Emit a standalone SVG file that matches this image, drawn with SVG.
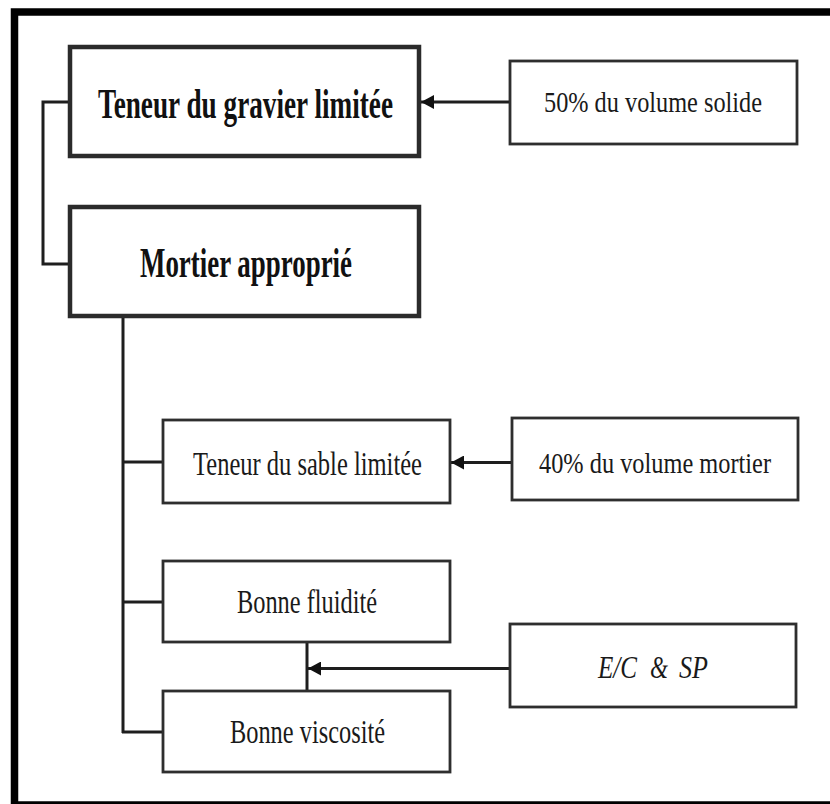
<svg xmlns="http://www.w3.org/2000/svg" width="830" height="804" viewBox="0 0 830 804">
<style>
.thick{fill:#fff;stroke:#2b2b2b;stroke-width:4.5}
.thin{fill:#fff;stroke:#2e2e2e;stroke-width:2.8}
.line{fill:none;stroke:#1e1e1e;stroke-width:3}
.bold{font-family:"Liberation Serif","Times New Roman",serif;font-weight:bold;font-size:42px;fill:#111;text-anchor:middle}
.reg{font-family:"Liberation Serif","Times New Roman",serif;font-size:33px;fill:#1a1a1a;text-anchor:middle}
.sm{font-size:30px}
.ital{font-family:"Liberation Serif","Times New Roman",serif;font-style:italic;font-size:32px;fill:#1a1a1a}
</style>
<defs>
<marker id="arr" viewBox="0 0 13 14" refX="13" refY="7" markerWidth="13" markerHeight="14" markerUnits="userSpaceOnUse" orient="auto">
<path d="M0,0 L13,7 L0,14 z" fill="#111"/>
</marker>
</defs>
<rect x="0" y="0" width="830" height="804" fill="#fff"/>
<rect id="frame" x="14.5" y="12" width="830" height="793" fill="none" stroke="#000" stroke-width="7.5"/>
<g id="connectors">
<path class="line" d="M70,102 H43 V264 H70" stroke-width="3.5"/>
<path class="line" d="M510,102 H421" marker-end="url(#arr)"/>
<path class="line" d="M123,316 V733"/>
<path class="line" d="M122,462 H163"/>
<path class="line" d="M122,602 H163"/>
<path class="line" d="M122,732 H163"/>
<path class="line" d="M512,462.5 H451" marker-end="url(#arr)"/>
<path class="line" d="M307,642 V691"/>
<path class="line" d="M510,668.5 H308" marker-end="url(#arr)"/>
</g>
<g id="n1"><rect class="thick" x="70" y="47" width="349" height="109"/><text class="bold" x="245.5" y="118" textLength="295" lengthAdjust="spacingAndGlyphs">Teneur du gravier limitée</text></g>
<g id="n2"><rect class="thick" x="70" y="207" width="349" height="109"/><text class="bold" x="246" y="277" textLength="212" lengthAdjust="spacingAndGlyphs">Mortier approprié</text></g>
<g id="n3"><rect class="thin" x="510" y="61" width="287" height="83"/><text class="reg sm" x="653" y="112" textLength="218" lengthAdjust="spacingAndGlyphs">50% du volume solide</text></g>
<g id="n4"><rect class="thin" x="163" y="420" width="287" height="83"/><text class="reg" x="307.5" y="475" textLength="229" lengthAdjust="spacingAndGlyphs">Teneur du sable limitée</text></g>
<g id="n5"><rect class="thin" x="512" y="418" width="286" height="82"/><text class="reg sm" x="655" y="473" textLength="232" lengthAdjust="spacingAndGlyphs">40% du volume mortier</text></g>
<g id="n6"><rect class="thin" x="163" y="561" width="287" height="81"/><text class="reg" x="307" y="613" textLength="140" lengthAdjust="spacingAndGlyphs">Bonne fluidité</text></g>
<g id="n7"><rect class="thin" x="163" y="691" width="287" height="81"/><text class="reg" x="307.5" y="743" textLength="155" lengthAdjust="spacingAndGlyphs">Bonne viscosité</text></g>
<g id="n8"><rect class="thin" x="510" y="624" width="286" height="83"/><text class="ital" y="678"><tspan x="598" textLength="39" lengthAdjust="spacingAndGlyphs">E/C</tspan><tspan x="650" textLength="18" lengthAdjust="spacingAndGlyphs">&amp;</tspan><tspan x="679" textLength="29" lengthAdjust="spacingAndGlyphs">SP</tspan></text></g>
</svg>
